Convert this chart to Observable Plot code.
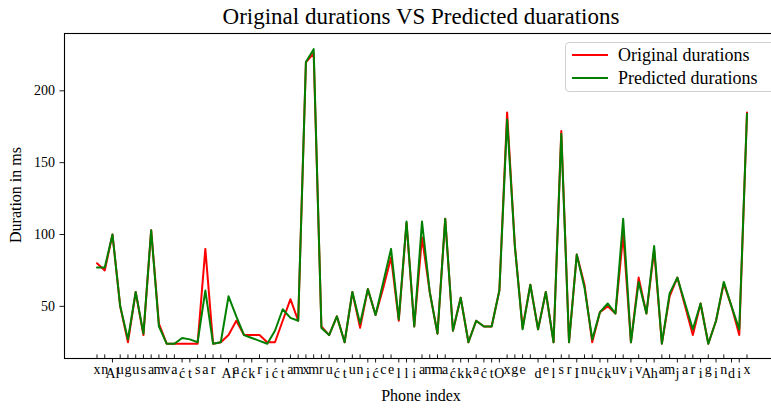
<!DOCTYPE html>
<html>
<head>
<meta charset="utf-8">
<script src="https://cdn.jsdelivr.net/npm/d3@7"></script>
<script src="https://cdn.jsdelivr.net/npm/@observablehq/plot@0.6"></script>
<style>
  body { margin: 0; background: #fff; }
  #wrap { position: relative; width: 771px; height: 410px; overflow: hidden; font-family: "Liberation Serif", serif; color: #000; }
  .title { position: absolute; left: 0; top: 5px; width: 842px; text-align: center; font-size: 23px; line-height: 23px; white-space: nowrap; }
  .xlabel { position: absolute; left: 0; top: 388px; width: 842px; text-align: center; font-size: 16px; line-height: 16px; white-space: nowrap; }
  .ylabel { position: absolute; left: 16px; top: 195px; font-size: 16px; line-height: 16px; white-space: nowrap; transform: translate(-50%, -50%) rotate(-90deg); }
  .legend { position: absolute; left: 565px; top: 42px; width: 220px; height: 50px; border: 1px solid #d0d0d0; border-radius: 4px; background: rgba(255,255,255,0.85); box-sizing: border-box; }
  .item { position: absolute; left: 0; height: 20px; font-size: 18px; line-height: 20px; white-space: nowrap; }
  .item .sw { position: absolute; left: 6px; top: 9px; width: 36px; height: 2px; }
  .item .tx { position: absolute; left: 52px; top: 0; }
</style>
</head>
<body>
<div id="wrap">
  <div id="chart"></div>
  <div class="title">Original durations VS Predicted duarations</div>
  <div class="xlabel">Phone index</div>
  <div class="ylabel">Duration in ms</div>
  <div class="legend" id="legend"></div>
</div>
<script>
// Phone labels along the x axis, one per index
const phones = [
  "x","n","Al","u","g","u","s","a","m","v","a","ć","t","s","a","r","","Al","a","ć",
  "k","r","i","ć","t","a","m","x","m","r","u","ć","t","u","n","i","ć","c","e","l",
  "l","i","a","m","m","a","ć","k","k","a","ć","t","O","x","g","e","","d","e","l",
  "s","r","I","n","u","ć","k","u","v","i","v","A","h","a","m","j","a","r","i","g",
  "i","n","d","i","x"
];

// Durations in ms
const original = [
  80, 75, 100, 50, 25, 60, 30, 103, 38, 24,
  24, 24, 24, 24, 90, 24, 25, 30, 40, 30,
  30, 30, 25, 25, 40, 55, 40, 220, 226, 36,
  30, 43, 25, 60, 35, 62, 44, 63, 84, 40,
  108, 36, 98, 60, 31, 111, 33, 56, 25, 40,
  36, 36, 61, 185, 92, 35, 65, 34, 60, 25,
  172, 25, 86, 65, 25, 46, 50, 45, 100, 25,
  70, 45, 89, 24, 57, 70, 50, 30, 52, 24,
  40, 66, 50, 30, 185
];
const predicted = [
  77, 77, 100, 50, 27, 60, 31, 103, 36, 24,
  24, 28, 27, 25, 61, 24, 25, 57, 43, 30,
  28, 26, 24, 33, 48, 42, 40, 220, 229, 35,
  30, 43, 25, 60, 38, 62, 44, 67, 90, 41,
  109, 36, 109, 60, 31, 111, 33, 56, 25, 40,
  36, 36, 61, 180, 92, 34, 65, 34, 60, 25,
  170, 25, 86, 63, 27, 46, 52, 45, 111, 25,
  67, 45, 92, 24, 59, 70, 52, 34, 52, 24,
  40, 67, 50, 34, 184
];

const seriesNames = ["Original durations", "Predicted durations"];
const seriesColors = ["#ff0000", "#008000"];

const rows = phones.map((phone, i) => ({i, phone, original: original[i], predicted: predicted[i]}));
const index = d3.range(phones.length);

// Labels with ascenders, capitals, dots or accents sit lower when top-aligned
const tall = (s) => /[A-Zbdfhijklt\u0107\u0301]/.test(s);
const tallIdx = index.filter((i) => tall(phones[i]));
const shortIdx = index.filter((i) => !tall(phones[i]));

const fs = 14;
const xAxisCommon = {
  tickSize: 4.5,
  tickPadding: 5,
  tickFormat: (i) => phones[i],
  label: null,
  fontSize: fs,
  strokeWidth: 0.9
};

const chart = Plot.plot({
  width: 771,
  height: 410,
  marginTop: 33,
  marginBottom: 52,
  marginLeft: 64,
  marginRight: -8,
  style: {fontFamily: "'Liberation Serif', serif", background: "transparent", color: "#000"},
  x: {domain: [-4.2, 88.2]},
  y: {domain: [13.7, 239.9]},
  marks: [
    Plot.lineY(rows, {x: "i", y: "original", stroke: seriesColors[0], strokeWidth: 2, strokeLinejoin: "round"}),
    Plot.lineY(rows, {x: "i", y: "predicted", stroke: seriesColors[1], strokeWidth: 2, strokeLinejoin: "round"}),
    Plot.axisY([50, 100, 150, 200], {tickSize: 4.5, tickPadding: 5, label: null, fontSize: fs, strokeWidth: 0.9}),
    Plot.axisX(tallIdx, {...xAxisCommon}),
    Plot.axisX(shortIdx, {...xAxisCommon, dy: -3.6}),
    Plot.frame({stroke: "#000", strokeWidth: 1.1})
  ]
});
document.getElementById("chart").appendChild(chart);

// Legend entries
const legend = document.getElementById("legend");
seriesNames.forEach((name, k) => {
  const item = document.createElement("div");
  item.className = "item";
  item.style.top = (2 + k * 23) + "px";
  const sw = document.createElement("span");
  sw.className = "sw";
  sw.style.background = seriesColors[k];
  const tx = document.createElement("span");
  tx.className = "tx";
  tx.textContent = name;
  item.appendChild(sw);
  item.appendChild(tx);
  legend.appendChild(item);
});
</script>
</body>
</html>
